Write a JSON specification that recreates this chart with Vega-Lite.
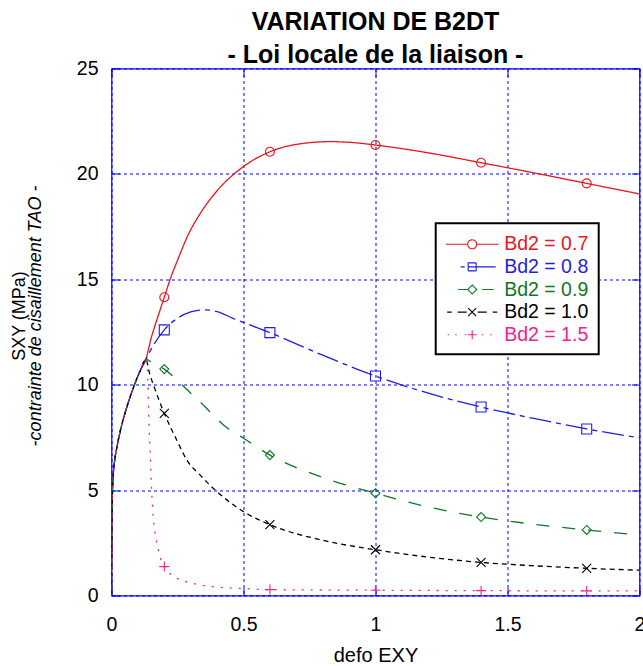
{
  "$schema": "https://vega.github.io/schema/vega-lite/v6.json",
  "width": 528,
  "height": 527,
  "autosize": {"type": "none"},
  "padding": {"left": 111.5, "top": 68.5, "right": 3.5, "bottom": 70.5},
  "config": {
    "font": "Liberation Sans",
    "view": {"stroke": "#0000ff", "strokeWidth": 1.2}
  },
  "title": {
    "text": ["VARIATION DE B2DT", "- Loi locale de la liaison -"],
    "font": "Liberation Sans",
    "fontSize": 25,
    "fontWeight": "bold",
    "color": "#000000",
    "anchor": "middle",
    "frame": "group",
    "lineHeight": 32.5,
    "offset": -9
  },
  "datasets": {
    "curves": [
      {"s": "0.7", "x": 0, "y": 0}, {"s": "0.7", "x": 0.001, "y": 2.5}, {"s": "0.7", "x": 0.003, "y": 4.5}, {"s": "0.7", "x": 0.006, "y": 5.6}, {"s": "0.7", "x": 0.012, "y": 6.4}, {"s": "0.7", "x": 0.02, "y": 7.0}, {"s": "0.7", "x": 0.035, "y": 7.9}, {"s": "0.7", "x": 0.05, "y": 8.6}, {"s": "0.7", "x": 0.07, "y": 9.4}, {"s": "0.7", "x": 0.09, "y": 10.1}, {"s": "0.7", "x": 0.11, "y": 10.7}, {"s": "0.7", "x": 0.13, "y": 11.2},
      {"s": "0.7", "x": 0.15, "y": 12.2}, {"s": "0.7", "x": 0.175, "y": 13.2}, {"s": "0.7", "x": 0.2, "y": 14.15}, {"s": "0.7", "x": 0.225, "y": 15.1}, {"s": "0.7", "x": 0.25, "y": 15.9}, {"s": "0.7", "x": 0.29, "y": 17.1}, {"s": "0.7", "x": 0.335, "y": 18.1}, {"s": "0.7", "x": 0.4, "y": 19.2}, {"s": "0.7", "x": 0.5, "y": 20.35}, {"s": "0.7", "x": 0.6, "y": 21.05}, {"s": "0.7", "x": 0.7, "y": 21.4}, {"s": "0.7", "x": 0.83, "y": 21.53}, {"s": "0.7", "x": 0.93, "y": 21.47}, {"s": "0.7", "x": 1.0, "y": 21.37}, {"s": "0.7", "x": 1.2, "y": 21.0}, {"s": "0.7", "x": 1.4, "y": 20.53}, {"s": "0.7", "x": 1.6, "y": 20.05}, {"s": "0.7", "x": 1.8, "y": 19.55}, {"s": "0.7", "x": 2.0, "y": 19.05},
      {"s": "0.8", "x": 0, "y": 0}, {"s": "0.8", "x": 0.001, "y": 2.5}, {"s": "0.8", "x": 0.003, "y": 4.5}, {"s": "0.8", "x": 0.006, "y": 5.6}, {"s": "0.8", "x": 0.012, "y": 6.4}, {"s": "0.8", "x": 0.02, "y": 7.0}, {"s": "0.8", "x": 0.035, "y": 7.9}, {"s": "0.8", "x": 0.05, "y": 8.6}, {"s": "0.8", "x": 0.07, "y": 9.4}, {"s": "0.8", "x": 0.09, "y": 10.1}, {"s": "0.8", "x": 0.11, "y": 10.7}, {"s": "0.8", "x": 0.13, "y": 11.2},
      {"s": "0.8", "x": 0.16, "y": 11.9}, {"s": "0.8", "x": 0.2, "y": 12.6}, {"s": "0.8", "x": 0.25, "y": 13.15}, {"s": "0.8", "x": 0.3, "y": 13.45}, {"s": "0.8", "x": 0.35, "y": 13.55}, {"s": "0.8", "x": 0.4, "y": 13.47}, {"s": "0.8", "x": 0.46, "y": 13.15}, {"s": "0.8", "x": 0.6, "y": 12.47}, {"s": "0.8", "x": 0.8, "y": 11.4}, {"s": "0.8", "x": 1.0, "y": 10.41}, {"s": "0.8", "x": 1.2, "y": 9.6}, {"s": "0.8", "x": 1.4, "y": 8.94}, {"s": "0.8", "x": 1.6, "y": 8.4}, {"s": "0.8", "x": 1.8, "y": 7.9}, {"s": "0.8", "x": 2.0, "y": 7.48},
      {"s": "0.9", "x": 0, "y": 0}, {"s": "0.9", "x": 0.001, "y": 2.5}, {"s": "0.9", "x": 0.003, "y": 4.5}, {"s": "0.9", "x": 0.006, "y": 5.6}, {"s": "0.9", "x": 0.012, "y": 6.4}, {"s": "0.9", "x": 0.02, "y": 7.0}, {"s": "0.9", "x": 0.035, "y": 7.9}, {"s": "0.9", "x": 0.05, "y": 8.6}, {"s": "0.9", "x": 0.07, "y": 9.4}, {"s": "0.9", "x": 0.09, "y": 10.1}, {"s": "0.9", "x": 0.11, "y": 10.7}, {"s": "0.9", "x": 0.13, "y": 11.2},
      {"s": "0.9", "x": 0.16, "y": 11.0}, {"s": "0.9", "x": 0.2, "y": 10.74}, {"s": "0.9", "x": 0.25, "y": 10.2}, {"s": "0.9", "x": 0.285, "y": 9.78}, {"s": "0.9", "x": 0.335, "y": 9.19}, {"s": "0.9", "x": 0.44, "y": 7.93}, {"s": "0.9", "x": 0.5, "y": 7.46}, {"s": "0.9", "x": 0.6, "y": 6.66}, {"s": "0.9", "x": 0.8, "y": 5.6}, {"s": "0.9", "x": 1.0, "y": 4.85}, {"s": "0.9", "x": 1.2, "y": 4.2}, {"s": "0.9", "x": 1.4, "y": 3.72}, {"s": "0.9", "x": 1.6, "y": 3.38}, {"s": "0.9", "x": 1.8, "y": 3.11}, {"s": "0.9", "x": 2.0, "y": 2.87},
      {"s": "1.0", "x": 0, "y": 0}, {"s": "1.0", "x": 0.001, "y": 2.5}, {"s": "1.0", "x": 0.003, "y": 4.5}, {"s": "1.0", "x": 0.006, "y": 5.6}, {"s": "1.0", "x": 0.012, "y": 6.4}, {"s": "1.0", "x": 0.02, "y": 7.0}, {"s": "1.0", "x": 0.035, "y": 7.9}, {"s": "1.0", "x": 0.05, "y": 8.6}, {"s": "1.0", "x": 0.07, "y": 9.4}, {"s": "1.0", "x": 0.09, "y": 10.1}, {"s": "1.0", "x": 0.11, "y": 10.7}, {"s": "1.0", "x": 0.13, "y": 11.2},
      {"s": "1.0", "x": 0.145, "y": 10.5}, {"s": "1.0", "x": 0.16, "y": 9.95}, {"s": "1.0", "x": 0.2, "y": 8.64}, {"s": "1.0", "x": 0.25, "y": 7.3}, {"s": "1.0", "x": 0.285, "y": 6.43}, {"s": "1.0", "x": 0.335, "y": 5.72}, {"s": "1.0", "x": 0.4, "y": 4.92}, {"s": "1.0", "x": 0.5, "y": 3.98}, {"s": "1.0", "x": 0.6, "y": 3.36}, {"s": "1.0", "x": 0.8, "y": 2.62}, {"s": "1.0", "x": 1.0, "y": 2.17}, {"s": "1.0", "x": 1.2, "y": 1.82}, {"s": "1.0", "x": 1.4, "y": 1.57}, {"s": "1.0", "x": 1.6, "y": 1.41}, {"s": "1.0", "x": 1.8, "y": 1.29}, {"s": "1.0", "x": 2.0, "y": 1.2},
      {"s": "1.5", "x": 0, "y": 0}, {"s": "1.5", "x": 0.001, "y": 2.5}, {"s": "1.5", "x": 0.003, "y": 4.5}, {"s": "1.5", "x": 0.006, "y": 5.6}, {"s": "1.5", "x": 0.012, "y": 6.4}, {"s": "1.5", "x": 0.02, "y": 7.0}, {"s": "1.5", "x": 0.035, "y": 7.9}, {"s": "1.5", "x": 0.05, "y": 8.6}, {"s": "1.5", "x": 0.07, "y": 9.4}, {"s": "1.5", "x": 0.09, "y": 10.1}, {"s": "1.5", "x": 0.11, "y": 10.7}, {"s": "1.5", "x": 0.13, "y": 11.2},
      {"s": "1.5", "x": 0.136, "y": 10.7}, {"s": "1.5", "x": 0.141, "y": 8.5}, {"s": "1.5", "x": 0.146, "y": 6.9}, {"s": "1.5", "x": 0.152, "y": 5.0}, {"s": "1.5", "x": 0.158, "y": 3.74}, {"s": "1.5", "x": 0.17, "y": 2.6}, {"s": "1.5", "x": 0.184, "y": 1.84}, {"s": "1.5", "x": 0.2, "y": 1.37}, {"s": "1.5", "x": 0.225, "y": 1.0}, {"s": "1.5", "x": 0.25, "y": 0.8}, {"s": "1.5", "x": 0.3, "y": 0.6}, {"s": "1.5", "x": 0.335, "y": 0.5}, {"s": "1.5", "x": 0.4, "y": 0.4}, {"s": "1.5", "x": 0.5, "y": 0.33}, {"s": "1.5", "x": 0.6, "y": 0.28}, {"s": "1.5", "x": 1.0, "y": 0.25}, {"s": "1.5", "x": 1.4, "y": 0.23}, {"s": "1.5", "x": 1.8, "y": 0.22}, {"s": "1.5", "x": 2.0, "y": 0.22}
    ],
    "markers": [
      {"s": "0.7", "x": 0.2, "y": 14.15}, {"s": "0.7", "x": 0.6, "y": 21.05}, {"s": "0.7", "x": 1.0, "y": 21.37}, {"s": "0.7", "x": 1.4, "y": 20.53}, {"s": "0.7", "x": 1.8, "y": 19.55},
      {"s": "0.8", "x": 0.2, "y": 12.6}, {"s": "0.8", "x": 0.6, "y": 12.47}, {"s": "0.8", "x": 1.0, "y": 10.41}, {"s": "0.8", "x": 1.4, "y": 8.94}, {"s": "0.8", "x": 1.8, "y": 7.9},
      {"s": "0.9", "x": 0.2, "y": 10.74}, {"s": "0.9", "x": 0.6, "y": 6.66}, {"s": "0.9", "x": 1.0, "y": 4.85}, {"s": "0.9", "x": 1.4, "y": 3.72}, {"s": "0.9", "x": 1.8, "y": 3.11},
      {"s": "1.0", "x": 0.2, "y": 8.64}, {"s": "1.0", "x": 0.6, "y": 3.36}, {"s": "1.0", "x": 1.0, "y": 2.17}, {"s": "1.0", "x": 1.4, "y": 1.57}, {"s": "1.0", "x": 1.8, "y": 1.29},
      {"s": "1.5", "x": 0.2, "y": 1.37}, {"s": "1.5", "x": 0.6, "y": 0.28}, {"s": "1.5", "x": 1.0, "y": 0.25}, {"s": "1.5", "x": 1.4, "y": 0.23}, {"s": "1.5", "x": 1.8, "y": 0.22}
    ]
  },
  "resolve": {"axis": {"x": "independent", "y": "independent"}},
  "layer": [
    {
      "data": {"name": "curves"},
      "mark": {"type": "line", "interpolate": "monotone", "strokeWidth": 1.3, "clip": true},
      "encoding": {
        "x": {
          "field": "x", "type": "quantitative",
          "scale": {"domain": [0, 2], "nice": false, "zero": false},
          "axis": {
            "orient": "bottom", "values": [0, 0.5, 1, 1.5, 2], "format": "~g", "grid": true,
            "gridColor": "#0000ff", "gridDash": [3, 3], "gridWidth": 1,
            "domain": false, "ticks": true, "tickSize": -8, "tickColor": "#0000ff", "tickWidth": 1,
            "labelFont": "Liberation Sans", "labelFontSize": 19.5, "labelColor": "#000000", "labelPadding": 27.5,
            "labelFlush": false, "labelOverlap": false,
            "title": "defo EXY", "titleFont": "Liberation Sans", "titleFontSize": 20, "titleFontWeight": "normal",
            "titleColor": "#000000", "titlePadding": 12
          }
        },
        "y": {
          "field": "y", "type": "quantitative",
          "scale": {"domain": [0, 25], "nice": false, "zero": true},
          "axis": {
            "orient": "left", "values": [0, 5, 10, 15, 20, 25], "grid": true,
            "gridColor": "#0000ff", "gridDash": [3, 3], "gridWidth": 1,
            "domain": false, "ticks": true, "tickSize": -8, "tickColor": "#0000ff", "tickWidth": 1,
            "labelFont": "Liberation Sans", "labelFontSize": 19.5, "labelColor": "#000000", "labelPadding": 21.5,
            "labelFlush": false, "labelOverlap": false,
            "title": "-contrainte de cisaillement TAO -", "titleFont": "Liberation Sans", "titleFontSize": 18,
            "titleFontWeight": "normal", "titleFontStyle": "italic", "titleColor": "#000000",
            "titleAngle": -90, "titleBaseline": "middle", "titleAlign": "center",
            "titleX": -76, "titleY": 247
          }
        },
        "color": {
          "field": "s", "type": "nominal",
          "scale": {"domain": ["0.7", "0.8", "0.9", "1.0", "1.5"], "range": ["#e8161b", "#1f1fe0", "#117722", "#000000", "#f0248c"]},
          "legend": {
            "orient": "none", "legendX": 324.2, "legendY": 154.8, "title": null, "zindex": 2,
            "fillColor": "#ffffff", "strokeColor": "#000000", "padding": 10,
            "labelExpr": "'Bd2 = ' + datum.label",
            "labelFont": "Liberation Sans", "labelFontSize": 19.5, "labelOffset": 21,
            "symbolSize": 400, "symbolStrokeWidth": 1, "rowPadding": 1.6, "symbolOffset": 15.5,
            "encode": {
              "legend": {"update": {"strokeWidth": {"value": 2}}},
              "labels": {"update": {"fill": {"scale": "color", "field": "value"}}},
              "symbols": {"update": {
                "shape": {"signal": "datum.value === '0.7' ? 'M-2.65,0H-0.45M0.45,0H2.65M-0.45,0A0.45,0.45 0 1,1 0.45,0A0.45,0.45 0 1,1 -0.45,0' : datum.value === '0.8' ? 'M-1.15,0H-0.75M-0.4,0H2.35M-0.4,-0.4H0.4V0.4H-0.4Z' : datum.value === '0.9' ? 'M-1.4,0H-0.45M1.0,0H2.15M0,-0.45L0.45,0L0,0.45L-0.45,0Z' : datum.value === '1.0' ? 'M-2.5,0H-2.05M-1.45,0H-0.55M0.55,0H1.45M2.05,0H2.5M-0.4,-0.4L0.4,0.4M-0.4,0.4L0.4,-0.4' : 'M-2.45,0H-2.3M-1.7,0H-1.55M-0.75,0H-0.6M0.95,0H1.1M1.8,0H1.95M-0.45,0H0.45M0,-0.45V0.45'"},
                "stroke": {"scale": "color", "field": "value"},
                "fill": {"value": "transparent"},
                "strokeDash": {"value": [1, 0]},
                "strokeWidth": {"value": 1.1},
                "size": {"value": 400},
                "opacity": {"value": 1}
              }}
            }
          }
        },
        "strokeDash": {
          "condition": [
            {"test": "datum.s === '0.8'", "value": [22, 5, 5, 5]},
            {"test": "datum.s === '0.9'", "value": [13, 13]},
            {"test": "datum.s === '1.0'", "value": [5, 4]},
            {"test": "datum.s === '1.5'", "value": [2, 7]}
          ],
          "value": [1, 0]
        }
      }
    },
    {
      "data": {"name": "markers"},
      "mark": {"type": "point", "filled": false, "strokeWidth": 1.1, "size": 100, "opacity": 1},
      "encoding": {
        "x": {
          "field": "x", "type": "quantitative",
          "axis": {"orient": "top", "values": [0, 0.5, 1, 1.5, 2], "labels": false, "grid": false, "domain": false,
                   "ticks": true, "tickSize": -8, "tickColor": "#0000ff", "tickWidth": 1, "title": null}
        },
        "y": {
          "field": "y", "type": "quantitative",
          "axis": {"orient": "right", "values": [0, 5, 10, 15, 20, 25], "labels": false, "grid": false, "domain": false,
                   "ticks": true, "tickSize": -8, "tickColor": "#0000ff", "tickWidth": 1, "title": null}
        },
        "color": {"field": "s", "type": "nominal"},
        "shape": {
          "condition": [
            {"test": "datum.s === '0.8'", "value": "M-1,-1H1V1H-1Z"},
            {"test": "datum.s === '0.9'", "value": "M0,-0.9L0.9,0L0,0.9L-0.9,0Z"},
            {"test": "datum.s === '1.0'", "value": "M-0.9,-0.9L0.9,0.9M-0.9,0.9L0.9,-0.9"},
            {"test": "datum.s === '1.5'", "value": "M-1,0H1M0,-1V1"}
          ],
          "value": "M-0.9,0A0.9,0.9 0 1,1 0.9,0A0.9,0.9 0 1,1 -0.9,0"
        }
      }
    },
    {
      "data": {"name": "markers"},
      "mark": {"type": "point", "filled": false, "stroke": "transparent", "strokeWidth": 0},
      "encoding": {
        "x": {"field": "x", "type": "quantitative", "axis": null},
        "y": {
          "field": "y", "type": "quantitative",
          "axis": {"orient": "left", "labels": false, "grid": false, "domain": false, "ticks": false,
                   "title": "SXY (MPa)", "titleFont": "Liberation Sans", "titleFontSize": 18, "titleFontWeight": "normal",
                   "titleColor": "#000000", "titleAngle": -90, "titleBaseline": "middle", "titleAlign": "center",
                   "titleX": -92, "titleY": 247}
        },
        "fillOpacity": {
          "field": "s", "type": "ordinal",
          "legend": {
            "orient": "none", "legendX": 329.5, "legendY": 160, "title": null, "zindex": 1,
            "fillColor": "#000000", "strokeColor": "#000000", "padding": 10,
            "labelExpr": "'Bd2 = ' + datum.label",
            "labelFont": "Liberation Sans", "labelFontSize": 19.5, "labelOffset": 21, "labelColor": "#000000",
            "symbolSize": 400, "symbolStrokeWidth": 1, "rowPadding": 1.6, "symbolOffset": 15.5,
            "encode": {
              "legend": {"update": {"strokeWidth": {"value": 2}}},
              "symbols": {"update": {
                "shape": {"signal": "datum.value === '0.7' ? 'M-2.65,0H-0.45M0.45,0H2.65M-0.45,0A0.45,0.45 0 1,1 0.45,0A0.45,0.45 0 1,1 -0.45,0' : datum.value === '0.8' ? 'M-1.15,0H-0.75M-0.4,0H2.35M-0.4,-0.4H0.4V0.4H-0.4Z' : datum.value === '0.9' ? 'M-1.4,0H-0.45M1.0,0H2.15M0,-0.45L0.45,0L0,0.45L-0.45,0Z' : datum.value === '1.0' ? 'M-2.5,0H-2.05M-1.45,0H-0.55M0.55,0H1.45M2.05,0H2.5M-0.4,-0.4L0.4,0.4M-0.4,0.4L0.4,-0.4' : 'M-2.45,0H-2.3M-1.7,0H-1.55M-0.75,0H-0.6M0.95,0H1.1M1.8,0H1.95M-0.45,0H0.45M0,-0.45V0.45'"},
                "stroke": {"value": "#000000"},
                "fill": {"value": "transparent"},
                "strokeWidth": {"value": 1},
                "size": {"value": 400},
                "opacity": {"value": 1}
              }}
            }
          }
        }
      }
    }
  ]
}
